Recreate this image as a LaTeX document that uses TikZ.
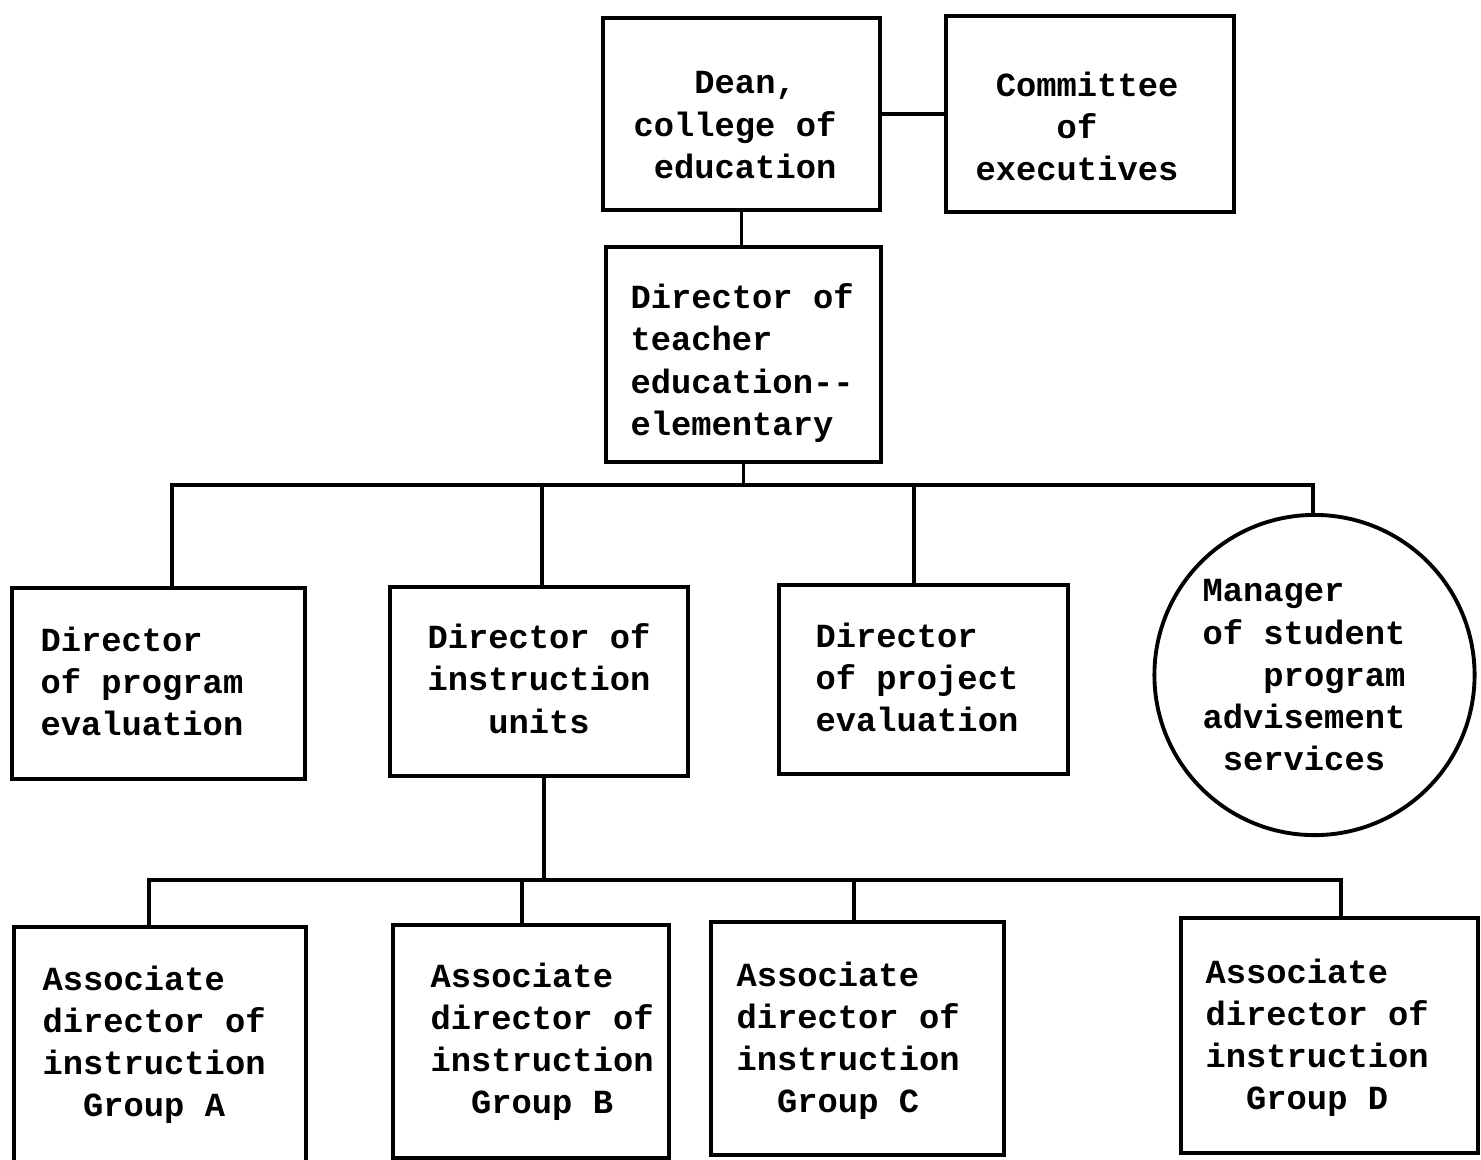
\documentclass[tikz,border=0pt]{standalone}
\usepackage{fontspec}
\setmonofont{Liberation Mono}
\begin{document}
\begin{tikzpicture}
[x=0.01cm,y=-0.01cm,
 boxdecorate/.style={shape=rectangle,draw,line width=1.1pt,inner sep=0pt},%
 circdecorate/.style={shape=circle,draw,line width=1.1pt,inner sep=0pt,minimum size=3.2cm},%
 textdecorate/.style={inner sep=0pt,align=left,anchor=north west,font=\ttfamily\bfseries\fontsize{9.6}{12}\selectfont},%
 linedecorate/.style={-,line width=1.1pt,line cap=rect}]
\useasboundingbox (0,0) rectangle (1481,1159);
% boxes
\node (0) at (741.5,114) [boxdecorate,minimum width=2.77cm,minimum height=1.92cm] {};
\node (1) at (1090,114) [boxdecorate,minimum width=2.88cm,minimum height=1.96cm] {};
\node (2) at (743.5,354.5) [boxdecorate,minimum width=2.75cm,minimum height=2.15cm] {};
\node (3) at (158.5,683.5) [boxdecorate,minimum width=2.93cm,minimum height=1.91cm] {};
\node (4) at (539,681.5) [boxdecorate,minimum width=2.98cm,minimum height=1.89cm] {};
\node (5) at (923.5,679.5) [boxdecorate,minimum width=2.89cm,minimum height=1.89cm] {};
\node (6) at (1314.5,675) [circdecorate] {};
\node (7) at (160,1048.5) [boxdecorate,minimum width=2.92cm,minimum height=2.43cm] {};
\node (8) at (531,1041.5) [boxdecorate,minimum width=2.76cm,minimum height=2.33cm] {};
\node (9) at (857.5,1038.5) [boxdecorate,minimum width=2.93cm,minimum height=2.33cm] {};
\node (10) at (1329.5,1035.5) [boxdecorate,minimum width=2.97cm,minimum height=2.35cm] {};
% texts
\node (0t) at (633,71) [textdecorate] {\phantom{xxx}Dean,\\college of\\\phantom{x}education};
\node (1t) at (975,71) [textdecorate] {\phantom{x}Committee\\\phantom{xxxx}of\\executives};
\node (2t) at (630,283) [textdecorate] {Director of\\teacher\\education--\\elementary};
\node (3t) at (40,626) [textdecorate] {Director\\of program\\evaluation};
\node (4t) at (539,623) [textdecorate,anchor=north,align=center] {Director of\\instruction\\units};
\node (5t) at (815,622) [textdecorate] {Director\\of project\\evaluation};
\node (6t) at (1202,579) [textdecorate] {Manager\\of student\\\phantom{xxx}program\\advisement\\\phantom{x}services};
\node (7t) at (42,965) [textdecorate] {Associate\\director of\\instruction\\\phantom{xx}Group A};
\node (8t) at (430,962) [textdecorate] {Associate\\director of\\instruction\\\phantom{xx}Group B};
\node (9t) at (736,961) [textdecorate] {Associate\\director of\\instruction\\\phantom{xx}Group C};
\node (10t) at (1205,958) [textdecorate] {Associate\\director of\\instruction\\\phantom{xx}Group D};
% branch points
\coordinate (d0) at (172,485);
\coordinate (d1) at (542,485);
\coordinate (d2) at (914,485);
\coordinate (d3) at (1313,485);
\coordinate (u0) at (544,880);
\coordinate (e0) at (149,880);
\coordinate (e1) at (522,880);
\coordinate (e2) at (854,880);
\coordinate (e3) at (1341,880);
% edges or lines
\path
(0) edge[linedecorate] (1)
(0.south) edge[linedecorate] (0.south |- 2.north)
(2.south) edge[linedecorate] (2.south |- d0)
(d0) edge[linedecorate] (d3)
(d0) edge[linedecorate] (d0 |- 3.north)
(d1) edge[linedecorate] (d1 |- 4.north)
(d2) edge[linedecorate] (d2 |- 5.north)
(d3) edge[linedecorate] (d3 |- 6.north)
(u0 |- 4.south) edge[linedecorate] (u0)
(e0) edge[linedecorate] (e3)
(e0) edge[linedecorate] (e0 |- 7.north)
(e1) edge[linedecorate] (e1 |- 8.north)
(e2) edge[linedecorate] (e2 |- 9.north)
(e3) edge[linedecorate] (e3 |- 10.north);
\end{tikzpicture}
\end{document}
